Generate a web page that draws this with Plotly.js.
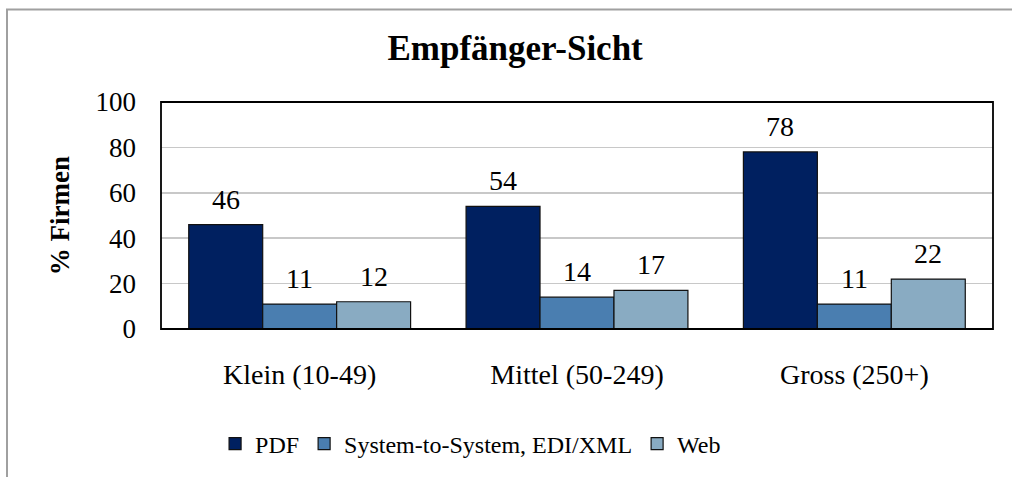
<!DOCTYPE html>
<html>
<head>
<meta charset="utf-8">
<script src="https://cdn.plot.ly/plotly-3.0.1.min.js"></script>
<style>html,body{margin:0;padding:0;background:#fff;}#chart{width:1012px;height:477px;}</style>
</head>
<body>
<div id="chart"></div>
<script>
const categories = ["Klein (10-49)", "Mittel (50-249)", "Gross (250+)"];
const seriesNames = ["PDF", "System-to-System, EDI/XML", "Web"];
const pdfValues = [46, 54, 78];
const systemValues = [11, 14, 11];
const webValues = [12, 17, 22];
const yTicks = [0, 20, 40, 60, 80, 100];

const colors = ["#002060", "#4a7eb0", "#89abc2"];
const allValues = [pdfValues, systemValues, webValues];
const font = "Liberation Serif, Times New Roman, serif";

const traces = allValues.map((vals, i) => ({
  type: "bar",
  name: seriesNames[i],
  x: categories,
  y: vals,
  marker: {color: colors[i], line: {color: "#111", width: 1.2}},
  hoverinfo: "skip"
}));

const shifts = [-74, 0, 74];
const annotations = [];
allValues.forEach((vals, i) => {
  vals.forEach((v, j) => {
    annotations.push({
      x: categories[j], y: v, xref: "x", yref: "y",
      text: String(v), showarrow: false,
      xshift: shifts[i], yshift: 8, yanchor: "bottom",
      font: {family: font, size: 28, color: "#000"}
    });
  });
});

const layout = {
  width: 1012, height: 477,
  margin: {l: 161, r: 19, t: 102, b: 147},
  paper_bgcolor: "#fff", plot_bgcolor: "#fff",
  title: {text: "<b>Empfänger-Sicht</b>", x: 0.509, xanchor: "center", y: 0.9, yanchor: "middle",
          font: {family: font, size: 35, color: "#000"}},
  barmode: "group", bargap: 0.2, bargroupgap: 0,
  showlegend: true,
  legend: {orientation: "h", x: 0.065, xanchor: "left", y: -0.5, yanchor: "middle",
           font: {family: font, size: 24, color: "#000"}, itemwidth: 30, tracegroupgap: 0,
           traceorder: "normal"},
  xaxis: {
    type: "category", showline: false, ticks: "", showgrid: false,
    tickfont: {family: font, size: 28, color: "#000"}, ticklabelstandoff: 26
  },
  yaxis: {
    range: [0, 100], tickvals: yTicks, showgrid: true, gridcolor: "#c8c8c8", gridwidth: 1.5,
    zeroline: false, showline: false, ticks: "",
    tickfont: {family: font, size: 27, color: "#000"}, ticklabelstandoff: 24,
    title: {text: "<b>% Firmen</b>", standoff: 18, font: {family: font, size: 27, color: "#000"}}
  },
  annotations: annotations,
  shapes: [
    {type: "rect", xref: "paper", yref: "paper", x0: 0, x1: 1, y0: 0, y1: 1,
     line: {color: "#000", width: 1.8}, fillcolor: "rgba(0,0,0,0)", layer: "above"},
    {type: "rect", xref: "paper", yref: "paper",
     x0: (7 - 161) / 832, x1: (1020 - 161) / 832,
     y0: (330 - 490) / 228, y1: (330 - 9) / 228,
     line: {color: "#a0a0a0", width: 2}, fillcolor: "rgba(0,0,0,0)", layer: "below"}
  ]
};

Plotly.newPlot("chart", traces, layout, {displayModeBar: false, staticPlot: true});
</script>
</body>
</html>
